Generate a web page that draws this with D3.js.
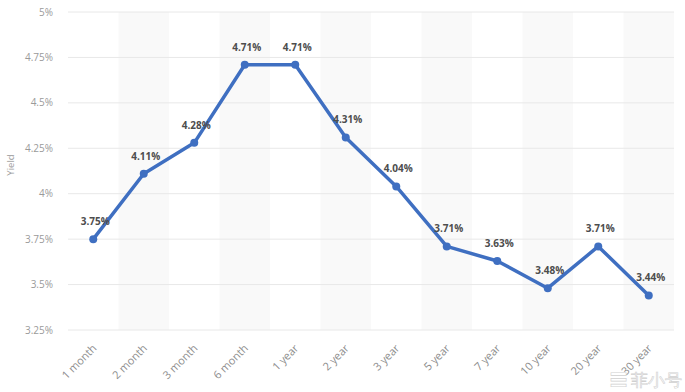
<!DOCTYPE html>
<html>
<head>
<meta charset="utf-8">
<script src="https://cdn.jsdelivr.net/npm/d3@7"></script>
<style>
  body { margin: 0; background: #fff; }
  text { font-family: "Open Sans", "Liberation Sans", sans-serif; }
</style>
</head>
<body>
<div id="chart"></div>
<script>
// Treasury yield curve
const maturities = ['1 month', '2 month', '3 month', '6 month', '1 year', '2 year',
    '3 year', '5 year', '7 year', '10 year', '20 year', '30 year'];
const yields = [3.75, 4.11, 4.28, 4.71, 4.71, 4.31, 4.04, 3.71, 3.63, 3.48, 3.71, 3.44];
const yTicks = [3.25, 3.5, 3.75, 4, 4.25, 4.5, 4.75, 5];

const W = 685, H = 392;
const margin = { top: 12, right: 11, bottom: 62, left: 68 };
const width = W - margin.left - margin.right;
const height = H - margin.top - margin.bottom;

const svg = d3.select('#chart').append('svg')
    .attr('width', W)
    .attr('height', H);

const g = svg.append('g')
    .attr('transform', `translate(${margin.left},${margin.top})`);

const x = d3.scaleBand()
    .domain(maturities)
    .range([0, width]);

const y = d3.scaleLinear()
    .domain([3.25, 5])
    .range([height, 0]);

// Alternating column shading
g.selectAll('.band')
    .data(maturities.filter((d, i) => i % 2 === 1))
    .enter()
    .append('rect')
    .attr('x', d => x(d))
    .attr('y', 0)
    .attr('width', x.bandwidth())
    .attr('height', height)
    .attr('fill', '#f9f9f9');

// Grid lines
g.selectAll('.grid')
    .data(yTicks)
    .enter()
    .append('line')
    .attr('x1', 0)
    .attr('x2', width)
    .attr('y1', d => y(d))
    .attr('y2', d => y(d))
    .attr('stroke', '#e8e8e8')
    .attr('stroke-width', 1);

// Y axis labels
const fmt = d => d3.format('~g')(d) + '%';
g.selectAll('.ytick')
    .data(yTicks)
    .enter()
    .append('text')
    .attr('x', -15)
    .attr('y', d => y(d))
    .attr('dy', '0.35em')
    .attr('text-anchor', 'end')
    .attr('fill', '#9a9a9a')
    .attr('font-size', '10px')
    .text(fmt);

svg.append('text')
    .attr('transform', 'rotate(-90)')
    .attr('x', -165)
    .attr('y', 14)
    .attr('text-anchor', 'middle')
    .attr('fill', '#9a9a9a')
    .attr('font-size', '9.5px')
    .text('Yield');

// X axis labels
g.selectAll('.xtick')
    .data(maturities)
    .enter()
    .append('text')
    .attr('transform', d => `translate(${x(d) + x.bandwidth() / 2 + 4},${height + 19}) rotate(-45)`)
    .attr('text-anchor', 'end')
    .attr('fill', '#8c8c8c')
    .attr('font-size', '11px')
    .text(d => d);

// Line
const line = d3.line()
    .x((d, i) => x(maturities[i]) + x.bandwidth() / 2)
    .y(d => y(d));

g.append('path')
    .datum(yields)
    .attr('fill', 'none')
    .attr('stroke', '#3f6fc1')
    .attr('stroke-width', 3.5)
    .attr('stroke-linejoin', 'round')
    .attr('d', line);

g.selectAll('.dot')
    .data(yields)
    .enter()
    .append('circle')
    .attr('cx', (d, i) => x(maturities[i]) + x.bandwidth() / 2)
    .attr('cy', d => y(d))
    .attr('r', 4)
    .attr('fill', '#3f6fc1');

// Value labels
g.selectAll('.val')
    .data(yields)
    .enter()
    .append('text')
    .attr('x', (d, i) => x(maturities[i]) + x.bandwidth() / 2 + 2)
    .attr('y', d => y(d) - 14)
    .attr('text-anchor', 'middle')
    .attr('fill', '#4d4d4d')
    .attr('font-size', '10px')
    .attr('font-weight', 'bold')
    .text(d => d.toFixed(2) + '%');

// Watermark
svg.append('text')
    .attr('x', 682)
    .attr('y', 386)
    .attr('text-anchor', 'end')
    .attr('fill', '#ffffff')
    .attr('stroke', '#d0d0d0')
    .attr('stroke-width', 0.6)
    .attr('font-size', '17px')
    .attr('font-family', 'Noto Sans CJK SC')
    .text('☰ 菲小号');
</script>
</body>
</html>
